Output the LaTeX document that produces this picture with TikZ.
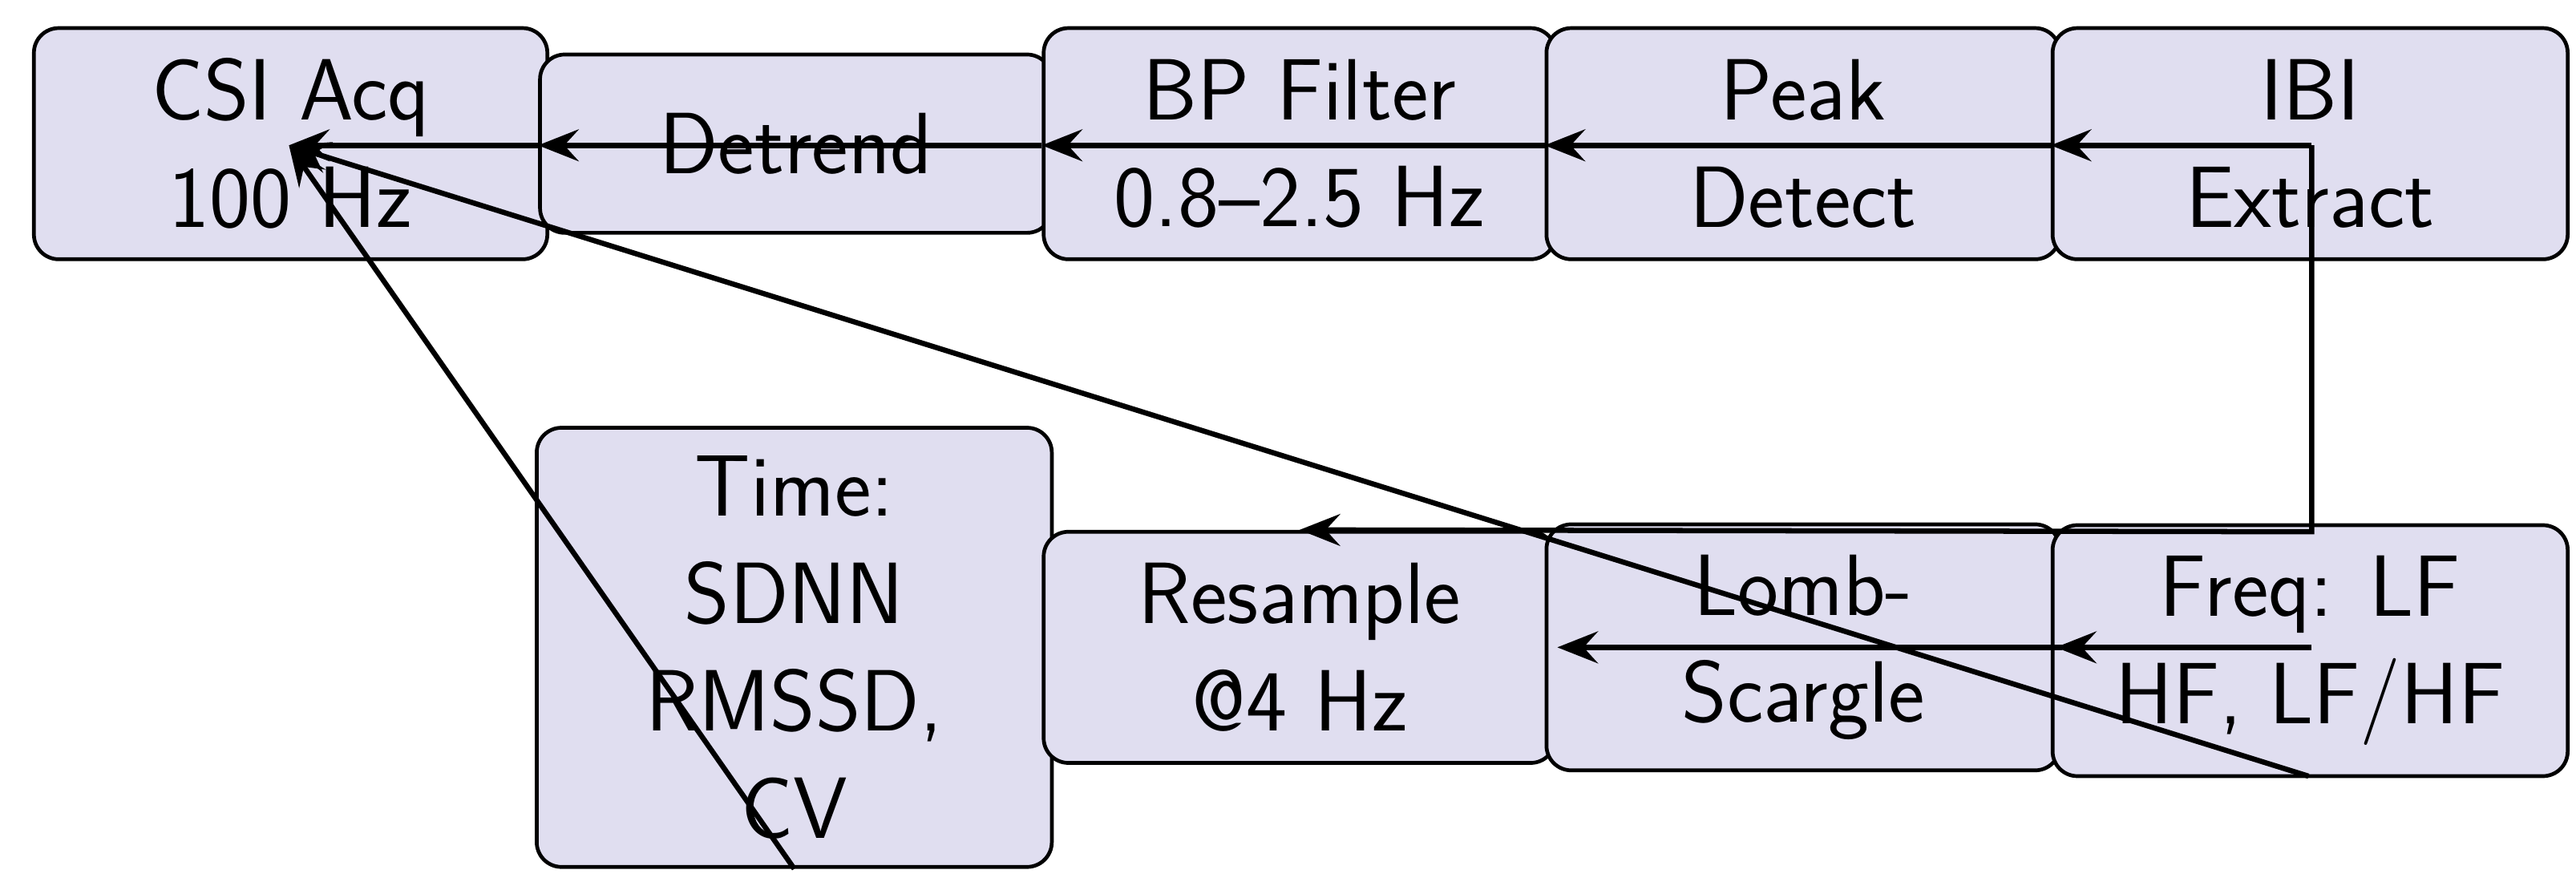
\documentclass[tikz,border=0pt]{standalone}
\usetikzlibrary{arrows.meta}
\begin{document}
\begin{tikzpicture}[x=0.02cm,y=-0.02cm,
 box/.style={draw=black,line width=1.3pt,fill={rgb,255:red,224;green,222;blue,240},rounded corners=0.3cm,align=center,inner sep=0pt,font=\fontsize{30}{37}\selectfont\sffamily},
 arr/.style={line width=1.8pt,-{Stealth[length=14pt,width=11pt,inset=5pt]}}]
\useasboundingbox (0,0) rectangle (1560,541);
\node[box,minimum width=6.22cm,minimum height=2.8cm] (csi) at (176,87) {CSI Acq\\100 Hz};
\node[box,minimum width=6.2cm,minimum height=2.16cm] (det) at (482,87) {Detrend};
\node[box,minimum width=6.2cm,minimum height=2.8cm] (bp) at (787,87) {BP Filter\\0.8--2.5 Hz};
\node[box,minimum width=6.22cm,minimum height=2.8cm] (peak) at (1092,87) {Peak\\Detect};
\node[box,minimum width=6.24cm,minimum height=2.8cm] (ibi) at (1399,87) {IBI\\Extract};
\node[box,minimum width=6.24cm,minimum height=5.32cm] (time) at (481,392) {Time:\\SDNN\\RMSSD,\\CV};
\node[box,minimum width=6.2cm,minimum height=2.8cm] (res) at (787,392) {Resample\\@4 Hz};
\node[box,minimum width=6.22cm,minimum height=2.98cm] (lomb) at (1092,392) {Lomb-\\Scargle};
\node[box,minimum width=6.24cm,minimum height=3.04cm] (freq) at (1399,394) {Freq: LF\\HF, LF/HF};
\coordinate (ibiC) at (1400,88);
\coordinate (csiT) at (175,88);
\draw[arr] (ibiC) -- (ibi.west |- ibiC);
\draw[arr] (ibi.west |- ibiC) -- (peak.west |- ibiC);
\draw[arr] (peak.west |- ibiC) -- (bp.west |- ibiC);
\draw[arr] (bp.west |- ibiC) -- (det.west |- ibiC);
\draw[arr] (det.west |- ibiC) -- (csiT);
\draw[arr] (ibiC) -- (1400,322) -- (res.north);
\draw[arr] (freq.west) ++(0,0) coordinate (fw) (1400,392) -- (1245,392);
\draw[arr] (lomb.east |- res) -- (res.east);
\draw[arr] (freq.south) ++(0,0) (1398,470) -- (csiT);
\draw[arr] (time.south) -- (csiT);
\end{tikzpicture}
\end{document}
